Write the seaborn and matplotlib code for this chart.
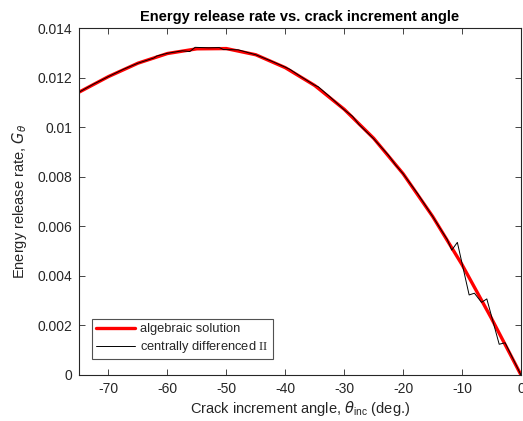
import matplotlib
matplotlib.use("Agg")
import matplotlib.pyplot as plt
import seaborn as sns
import pandas as pd

# Algebraic solution
alg_angle = [-75, -70, -65, -60, -55, -50, -45, -40, -35, -30, -25, -20, -15, -10, -5, 0]
alg_G = [0.01141, 0.01204, 0.01258, 0.01297, 0.01316, 0.01317, 0.01292, 0.01240,
         0.01168, 0.01072, 0.00955, 0.00812, 0.00640, 0.00445, 0.00228, 0.0]

# Centrally differenced II
cd_angle = [-75, -72.5, -70, -67.5, -65, -62.3, -61.8, -60, -57.5, -56.2, -55.3, -53,
            -51.2, -50.5, -48, -45, -42.5, -40, -39.2, -37.5, -35, -34.4, -32.5, -30,
            -28.6, -27.5, -25, -22.5, -21.3, -20, -17.5, -15, -13.6, -12.5, -11.75,
            -10.8, -8.8, -7.9, -6.7, -5.8, -3.7, -2.7, 0]
cd_G = [0.01141, 0.01174, 0.01204, 0.01233, 0.01258, 0.01279, 0.01287, 0.01298,
        0.01308, 0.01305, 0.01322, 0.01320, 0.01321, 0.01313, 0.01312, 0.01292,
        0.01268, 0.01242, 0.01233, 0.01206, 0.01169, 0.01163, 0.01124, 0.01070,
        0.01044, 0.01011, 0.00953, 0.00887, 0.00848, 0.00812, 0.00730, 0.00640,
        0.00587, 0.00546, 0.00504, 0.00535, 0.00323, 0.00330, 0.00293, 0.00307,
        0.00124, 0.00130, 0.0]

x_ticks = [-70, -60, -50, -40, -30, -20, -10, 0]
y_ticks = [0, 0.002, 0.004, 0.006, 0.008, 0.010, 0.012, 0.014]
y_tick_labels = ["0", "0.002", "0.004", "0.006", "0.008", "0.01", "0.012", "0.014"]

sns.set_theme(style="ticks")
plt.rcParams["font.family"] = ["Liberation Sans", "DejaVu Sans"]
plt.rcParams["axes.unicode_minus"] = False
plt.rcParams["mathtext.fontset"] = "custom"
plt.rcParams["mathtext.rm"] = "Liberation Serif"
plt.rcParams["mathtext.it"] = "DejaVu Sans:italic"
plt.rcParams["mathtext.sf"] = "Liberation Sans"

TXT = "#262626"

fig = plt.figure(figsize=(5.23, 4.21), dpi=100)
ax = fig.add_axes([79 / 523, 1 - 375 / 421, 442 / 523, 347 / 421])

alg = pd.DataFrame({"angle": alg_angle, "G": alg_G})
cd = pd.DataFrame({"angle": cd_angle, "G": cd_G})

sns.lineplot(data=alg, x="angle", y="G", ax=ax, color="#ff0000", linewidth=2.4,
             label="algebraic solution", sort=False)
sns.lineplot(data=cd, x="angle", y="G", ax=ax, color="#000000", linewidth=0.7,
             label=r"centrally differenced $\mathrm{II}$", sort=False)

ax.set_xlim(-75, 0)
ax.set_ylim(0, 0.014)
ax.set_xticks(x_ticks)
ax.set_xticklabels([str(t) for t in x_ticks])
ax.set_yticks(y_ticks)
ax.set_yticklabels(y_tick_labels)

ax.tick_params(direction="in", top=True, right=True, length=4, width=0.6,
               colors=TXT, labelsize=10, labelcolor=TXT, pad=5)
for s in ax.spines.values():
    s.set_visible(True)
    s.set_color(TXT)
    s.set_linewidth(0.8)

ax.set_xlabel(r"Crack increment angle, $\theta_{\mathsf{inc}}$ (deg.)", fontsize=10.5,
              color=TXT, labelpad=2)
ax.set_ylabel(r"Energy release rate, $G_\theta$", fontsize=10.5, color=TXT, labelpad=6)
ax.set_title("Energy release rate vs. crack increment angle", fontsize=10.5,
             fontweight="bold", color="black", pad=5)

leg = ax.legend(loc="lower left", bbox_to_anchor=(13 / 442, 16 / 347), borderaxespad=0,
                fontsize=9.3, frameon=True, fancybox=False, edgecolor=TXT,
                handlelength=3.0, handletextpad=0.45, labelspacing=0.3,
                borderpad=0.3)
leg.get_frame().set_linewidth(0.8)
for t in leg.get_texts():
    t.set_color(TXT)

fig.savefig("out.png", dpi=100)
